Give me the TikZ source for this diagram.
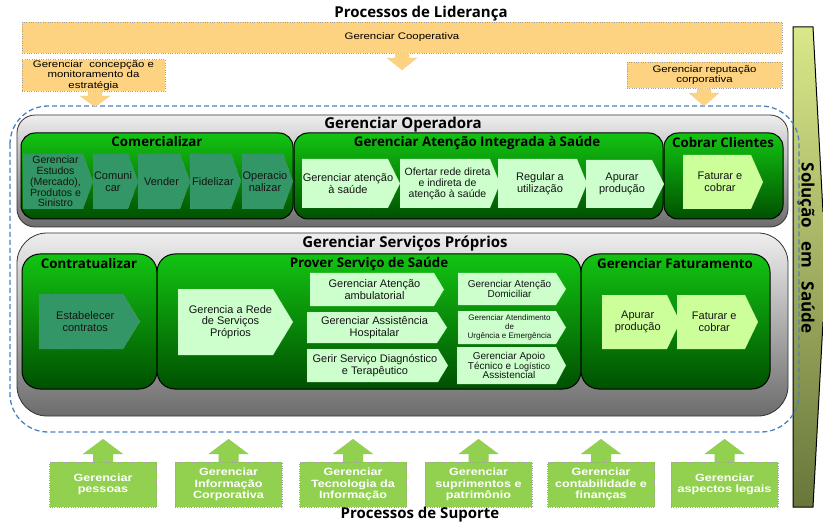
\documentclass[tikz,border=0pt]{standalone}
\usepackage{fontspec}
\setmainfont{Liberation Sans}
\newfontfamily\wide{Liberation Sans}[FakeStretch=1.2]
\newfontfamily\tf{Open Sans}
\usetikzlibrary{calc}
\definecolor{orangefill}{RGB}{253,210,128}
\definecolor{dashblue}{RGB}{79,129,189}
\definecolor{barTop}{RGB}{218,232,138}
\definecolor{barBot}{RGB}{104,118,58}
\definecolor{grayTop}{RGB}{238,238,238}
\definecolor{grayBot}{RGB}{108,108,108}
\definecolor{gTop}{RGB}{18,196,18}
\definecolor{gMid}{RGB}{10,165,10}
\definecolor{gBot}{RGB}{0,80,0}
\definecolor{tealc}{RGB}{51,150,102}
\definecolor{lightg}{RGB}{204,255,204}
\definecolor{yellg}{RGB}{204,255,153}
\definecolor{suppg}{RGB}{146,208,80}
\tikzset{
  thindot/.style={dotted, line width=0.35pt},
  orangebox/.style={draw=gray!75, thindot, fill=orangefill, inner sep=1pt, align=center,
    font=\wide\fontsize{9.5}{10.5}\selectfont},
  orangearrow/.style={draw=gray!75, thindot, fill=orangefill},
  graybox/.style={draw=black!80, line width=0.8pt, top color=grayTop, bottom color=grayBot},
  greenpanel/.style={draw=black, line width=1pt, top color=gTop, middle color=gMid, bottom color=gBot, rounded corners=14pt},
  maintitle/.style={font=\tf\bfseries\fontsize{15}{16}\selectfont, inner sep=0pt},
  paneltitle/.style={font=\tf\bfseries\fontsize{13.3}{14}\selectfont, inner sep=0pt},
  tealchev/.style={fill=tealc, draw=black!35, thindot},
  lightchev/.style={fill=lightg, draw=gray!60, thindot},
  yellowchev/.style={fill=yellg, draw=gray!60, thindot},
  chevtext/.style={align=center, inner sep=0pt, text=black!92, font=\fontsize{11}{11.5}\selectfont},
  suppbox/.style={fill=suppg, draw=gray!75, thindot, minimum width=107pt, minimum height=45pt,
    align=center, inner sep=0pt, text=white, font=\wide\bfseries\fontsize{10.5}{11.5}\selectfont},
  supparrow/.style={fill=suppg, draw=gray!75, thindot},
}
% name, x1, y1, x2, y2, tip, shape style, node options, text
\newcommand\mychev[9]{%
  \path[#7] (#2,#3) -- ({#4-#6},#3) -- (#4,{(#3+#5)/2}) -- ({#4-#6},#5) -- (#2,#5) -- cycle;
  \node[chevtext,#8] (#1) at ({(#2+#4)/2-#6/4},{(#3+#5)/2}) {#9};}
% down arrow: cx, ytop, yhead, ytip
\newcommand\downblk[4]{%
  \path[orangearrow] ({#1-7},#2) -- ({#1-7},#3) -- ({#1-15},#3) -- (#1,#4) -- ({#1+15},#3) -- ({#1+7},#3) -- ({#1+7},#2);}
\newcommand\upblk[1]{%
  \path[supparrow] ({#1-10},462) -- ({#1-10},454) -- ({#1-20},454) -- (#1,439) -- ({#1+20},454) -- ({#1+10},454) -- ({#1+10},462);}
\begin{document}
\begin{tikzpicture}[x=1pt,y=-1pt]
\useasboundingbox (0,0) rectangle (823,524);
\fill[white] (0,0) rectangle (823,524);

% right bar
\shade[top color=barTop, bottom color=barBot] (793,27) -- (813,27) -- (823,212) -- (823,322) -- (813,507) -- (793,507) -- cycle;
\draw[black, line width=1pt] (823,212) -- (813,27) -- (793,27) -- (793,507) -- (813,507) -- (823,322);
\node[font=\tf\bfseries\fontsize{17}{18}\selectfont, rotate=-90, inner sep=0pt] (sol) at (806,248) {Solução\ \ \ em\ \ \ Saúde};

% dashed container
\draw[dashblue, line width=1.3pt, dash pattern=on 5pt off 3pt, rounded corners=38pt] (10,106) rectangle (799,432);

% leadership
\node[maintitle] (lid) at (421,14) {Processos de Liderança};
\node[orangebox, minimum width=760pt, minimum height=31pt] (coop) at (402,37.5) {Gerenciar Cooperativa};
\node[orangebox, minimum width=143pt, minimum height=31pt] (estr) at (93.5,75.5) {Gerenciar \ concepção e\\monitoramento da\\estratégia};
\node[orangebox, minimum width=155pt, minimum height=26pt] (rep) at (704.5,75) {Gerenciar reputação\\corporativa};
\downblk{402}{53.5}{58}{70}
\downblk{95}{91.5}{96}{107}
\downblk{704}{88.5}{93}{106}

% Gerenciar Operadora
\node[graybox, rounded corners=18pt, minimum width=771pt, minimum height=112pt] (op) at (402.5,171) {};
\node[maintitle] (opt) at (403,125) {Gerenciar Operadora};
\node[greenpanel, minimum width=272pt, minimum height=86pt] (com) at (157,176) {};
\node[greenpanel, minimum width=369pt, minimum height=86pt] (ate) at (478.5,176) {};
\node[greenpanel, minimum width=119pt, minimum height=86pt] (cob) at (723.5,176) {};
\node[paneltitle] (comt) at (157,142) {Comercializar};
\node[paneltitle] (atet) at (477,143) {Gerenciar Atenção Integrada à Saúde};
\node[paneltitle] (cobt) at (723,143) {Cobrar Clientes};

\mychev{ce1}{23}{154}{93}{209}{10}{tealchev}{font=\fontsize{10.5}{10.8}\selectfont}{Gerenciar\\Estudos\\(Mercado),\\Produtos e\\Sinistro}
\mychev{ce2}{93}{154}{138}{209}{10}{tealchev}{}{Comuni\\car}
\mychev{ce3}{138}{154}{190}{209}{10}{tealchev}{}{Vender}
\mychev{ce4}{190}{154}{241}{209}{10}{tealchev}{}{Fidelizar}
\mychev{ce5}{242}{154}{293}{209}{10}{tealchev}{}{Operacio\\nalizar}

\mychev{ai1}{302}{159}{400}{208}{12}{lightchev}{}{Gerenciar atenção\\à saúde}
\mychev{ai2}{400}{159}{500}{208}{10}{lightchev}{font=\fontsize{10.5}{11}\selectfont}{Ofertar rede direta\\e indireta de\\atenção à saúde}
\mychev{ai3}{498}{159}{587}{208}{10}{lightchev}{}{Regular a\\utilização}
\mychev{ai4}{586}{160}{664}{208}{12}{lightchev}{}{Apurar\\produção}
\mychev{cc1}{683}{155}{763}{209}{12}{yellowchev}{}{Faturar e\\cobrar}

% Gerenciar Servicos Proprios
\node[graybox, rounded corners=30pt, minimum width=771pt, minimum height=183pt] (sp) at (402.5,324.5) {};
\node[maintitle] (spt) at (405,244) {Gerenciar Serviços Próprios};
\node[greenpanel, rounded corners=18pt, minimum width=135pt, minimum height=135pt] (ctr) at (89.5,321.5) {};
\node[greenpanel, rounded corners=18pt, minimum width=424pt, minimum height=135pt] (prv) at (369,321.5) {};
\node[greenpanel, rounded corners=18pt, minimum width=189pt, minimum height=135pt] (fat) at (675.5,321.5) {};
\node[paneltitle] (ctrt) at (89,264) {Contratualizar};
\node[paneltitle] (prvt) at (369,264) {Prover Serviço de Saúde};
\node[paneltitle] (fatt) at (675,264) {Gerenciar Faturamento};

\mychev{ct1}{39}{294}{140}{349}{17}{tealchev}{}{Estabelecer\\contratos}
\mychev{ps0}{178}{289}{293}{355}{20}{lightchev}{}{Gerencia a Rede\\de Serviços\\Próprios}
\mychev{ps1}{310}{273}{444}{306}{10}{lightchev}{}{Gerenciar Atenção\\ambulatorial}
\mychev{ps2}{307}{312}{447}{343}{10}{lightchev}{}{Gerenciar Assistência\\Hospitalar}
\mychev{ps3}{307}{349}{448}{382}{10}{lightchev}{}{Gerir Serviço Diagnóstico\\e Terapêutico}
\mychev{ps4}{458}{273}{566}{305}{10}{lightchev}{font=\fontsize{10}{10.5}\selectfont}{Gerenciar Atenção\\Domiciliar}
\mychev{ps5}{458}{311}{566}{344}{10}{lightchev}{font=\fontsize{8}{9}\selectfont}{Gerenciar Atendimento\\de\\Urgência e Emergência}
\mychev{ps6}{457}{347}{566}{384}{10}{lightchev}{font=\fontsize{10}{9.6}\selectfont}{Gerenciar Apoio\\Técnico e {\fontsize{9}{9}\selectfont Logístico}\\Assistencial}
\mychev{gf1}{602}{295}{680}{349}{13}{yellowchev}{}{Apurar\\produção}
\mychev{gf2}{677}{295}{758}{349}{13}{yellowchev}{}{Faturar e\\cobrar}

% support
\upblk{103}
\upblk{228.5}
\upblk{353}
\upblk{478.5}
\upblk{601}
\upblk{724.5}
\node[suppbox] (s1) at (103,484.5) {Gerenciar\\pessoas};
\node[suppbox] (s2) at (228.5,484.5) {Gerenciar\\Informação\\Corporativa};
\node[suppbox] (s3) at (353,484.5) {Gerenciar\\Tecnologia da\\Informação};
\node[suppbox] (s4) at (478.5,484.5) {Gerenciar\\suprimentos e\\patrimônio};
\node[suppbox] (s5) at (601,484.5) {Gerenciar\\contabilidade e\\finanças};
\node[suppbox] (s6) at (724.5,484.5) {Gerenciar\\aspectos legais};
\node[maintitle] (sup) at (420,515) {Processos de Suporte};
\end{tikzpicture}
\end{document}
